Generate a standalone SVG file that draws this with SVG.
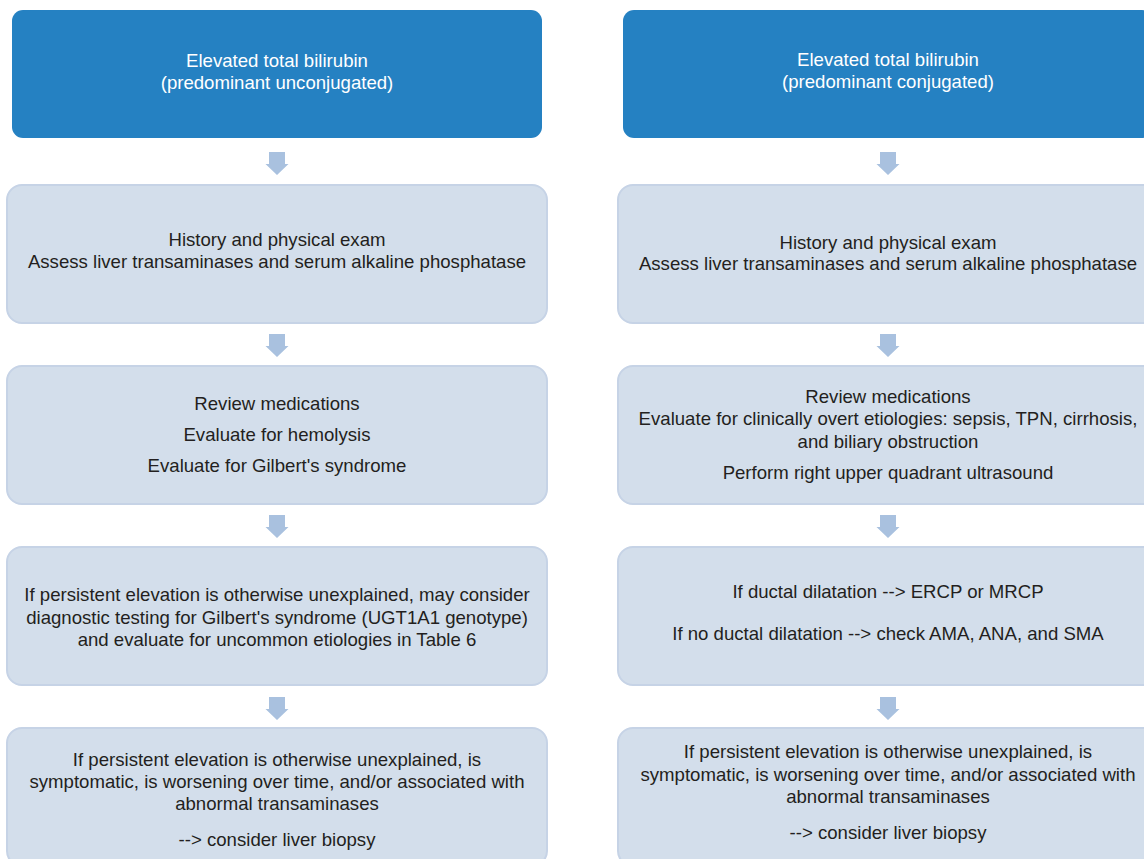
<svg xmlns="http://www.w3.org/2000/svg" width="1144" height="859" viewBox="0 0 1144 859">
<defs>
<style>
.top{fill:#2581c2;}
.box{fill:#d3deeb;stroke:#c6d3e6;stroke-width:2;}
.t{font-family:"Liberation Sans",Arial,sans-serif;font-size:18.6px;fill:#231f20;text-anchor:middle;}
.w{font-family:"Liberation Sans",Arial,sans-serif;font-size:18.6px;fill:#ffffff;text-anchor:middle;}
.arr{fill:#a9c1df;}
</style>
<path id="ar" d="M-8,0 H8 V12 H11.5 L0,23 L-11.5,12 H-8 Z"/>
</defs>
<rect width="1144" height="859" fill="#ffffff"/>
<g id="connectors" class="arr">
<use href="#ar" x="277" y="152"/>
<use href="#ar" x="277" y="334"/>
<use href="#ar" x="277" y="515"/>
<use href="#ar" x="277" y="697"/>
<use href="#ar" x="888" y="152"/>
<use href="#ar" x="888" y="334"/>
<use href="#ar" x="888" y="515"/>
<use href="#ar" x="888" y="697"/>
</g>
<g id="L1"><rect class="top" x="12" y="10" width="530" height="128" rx="11"/>
<text class="w" x="277" y="67">Elevated total bilirubin</text>
<text class="w" x="277" y="89">(predominant unconjugated)</text></g>
<g id="L2"><rect class="box" x="7" y="185" width="540" height="138" rx="15"/>
<text class="t" x="277" y="246">History and physical exam</text>
<text class="t" x="277" y="268">Assess liver transaminases and serum alkaline phosphatase</text></g>
<g id="L3"><rect class="box" x="7" y="366" width="540" height="138" rx="15"/>
<text class="t" x="277" y="410">Review medications</text>
<text class="t" x="277" y="441">Evaluate for hemolysis</text>
<text class="t" x="277" y="472">Evaluate for Gilbert's syndrome</text></g>
<g id="L4"><rect class="box" x="7" y="547" width="540" height="138" rx="15"/>
<text class="t" x="277" y="601">If persistent elevation is otherwise unexplained, may consider</text>
<text class="t" x="277" y="624">diagnostic testing for Gilbert's syndrome (UGT1A1 genotype)</text>
<text class="t" x="277" y="646">and evaluate for uncommon etiologies in Table 6</text></g>
<g id="L5"><rect class="box" x="7" y="728" width="540" height="138" rx="15"/>
<text class="t" x="277" y="766">If persistent elevation is otherwise unexplained, is</text>
<text class="t" x="277" y="788">symptomatic, is worsening over time, and/or associated with</text>
<text class="t" x="277" y="810">abnormal transaminases</text>
<text class="t" x="277" y="846">--&gt; consider liver biopsy</text></g>
<g id="R1"><rect class="top" x="623" y="10" width="530" height="128" rx="11"/>
<text class="w" x="888" y="66">Elevated total bilirubin</text>
<text class="w" x="888" y="88">(predominant conjugated)</text></g>
<g id="R2"><rect class="box" x="618" y="185" width="540" height="138" rx="15"/>
<text class="t" x="888" y="249">History and physical exam</text>
<text class="t" x="888" y="270">Assess liver transaminases and serum alkaline phosphatase</text></g>
<g id="R3"><rect class="box" x="618" y="366" width="540" height="138" rx="15"/>
<text class="t" x="888" y="403">Review medications</text>
<text class="t" x="888" y="425">Evaluate for clinically overt etiologies: sepsis, TPN, cirrhosis,</text>
<text class="t" x="888" y="448">and biliary obstruction</text>
<text class="t" x="888" y="479">Perform right upper quadrant ultrasound</text></g>
<g id="R4"><rect class="box" x="618" y="547" width="540" height="138" rx="15"/>
<text class="t" x="888" y="598">If ductal dilatation --&gt; ERCP or MRCP</text>
<text class="t" x="888" y="640">If no ductal dilatation --&gt; check AMA, ANA, and SMA</text></g>
<g id="R5"><rect class="box" x="618" y="728" width="540" height="138" rx="15"/>
<text class="t" x="888" y="758">If persistent elevation is otherwise unexplained, is</text>
<text class="t" x="888" y="781">symptomatic, is worsening over time, and/or associated with</text>
<text class="t" x="888" y="803">abnormal transaminases</text>
<text class="t" x="888" y="839">--&gt; consider liver biopsy</text></g>
</svg>
